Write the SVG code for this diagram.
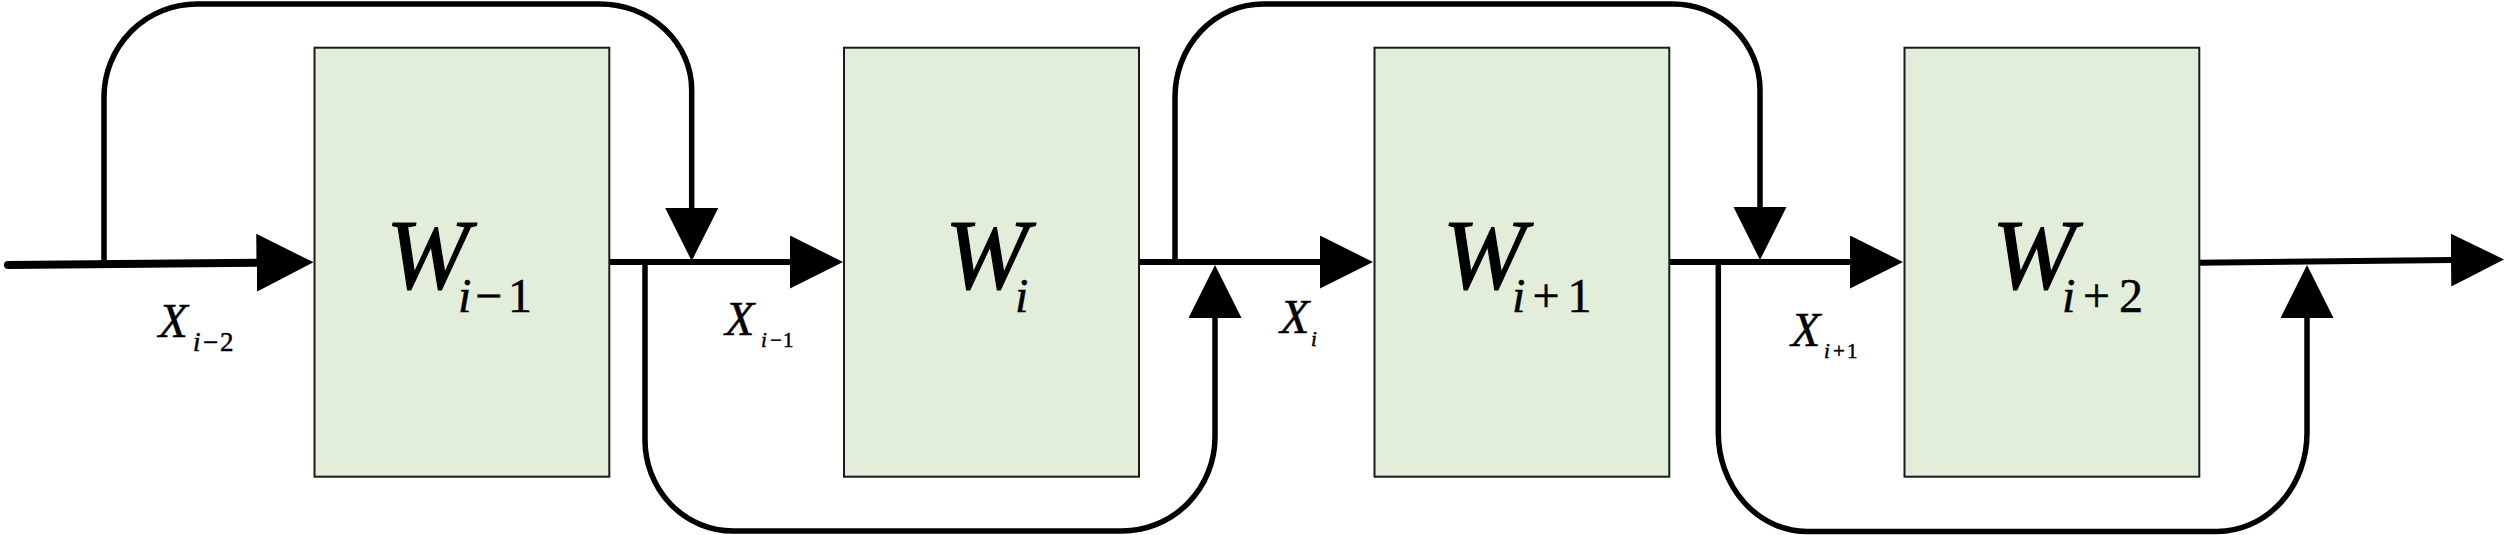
<svg xmlns="http://www.w3.org/2000/svg" width="2510" height="535" viewBox="0 0 2510 535">
<style>
.box{fill:#E2EDDA;stroke:#1a1a1a;stroke-width:2}
.main{fill:none;stroke:#000;stroke-width:6;stroke-linecap:round}
.loop{fill:none;stroke:#000;stroke-width:5.5}
.t{font-family:'Liberation Serif','Times New Roman',Times,serif;fill:#000;stroke:#000;stroke-width:0.5}
.big{stroke-width:1.2}
</style>
<defs>
<marker id="ah" markerUnits="userSpaceOnUse" markerWidth="60" markerHeight="60" refX="1" refY="26.5" orient="auto">
<path d="M0,0 L53,26.5 L0,53 Z" fill="#000"/>
</marker>
<marker id="ahBig" markerUnits="userSpaceOnUse" markerWidth="64" markerHeight="64" refX="1" refY="29" orient="auto">
<path d="M0,0 L57,29 L0,58 Z" fill="#000"/>
</marker>
</defs>

<g id="connectors">
<path class="main" style="stroke-width:8" d="M8,265 L257.5,262.8" marker-end="url(#ahBig)"/>
<path class="main" d="M609,262 L791,262" marker-end="url(#ah)"/>
<path class="main" d="M1139,262 L1321,262" marker-end="url(#ah)"/>
<path class="main" d="M1669,262 L1851,262" marker-end="url(#ah)"/>
<path class="main" d="M2199,262.7 L2452,260" marker-end="url(#ah)"/>
<path class="loop" d="M104,263 V97 A93,93 0 0 1 197,4 H600 A91.7,86 0 0 1 691.7,90 V209" marker-end="url(#ah)"/>
<path class="loop" d="M645,262 V440 A88,91 0 0 0 733,531 H1122 A93,94 0 0 0 1215,437 V317" marker-end="url(#ah)"/>
<path class="loop" d="M1175,262 V97 A88,93 0 0 1 1263,4 H1673 A87,86 0 0 1 1760,90 V208" marker-end="url(#ah)"/>
<path class="loop" d="M1718.3,262 V433 A89,98.5 0 0 0 1807,531.5 H2217 A90,98.5 0 0 0 2307,433 V317" marker-end="url(#ah)"/>
</g>

<g id="node-w-im1">
<rect class="box" x="314.5" y="47.7" width="294.8" height="429"/>
<text class="t"><tspan class="big" font-style="italic" font-size="100" x="386" y="288">W</tspan><tspan font-style="italic" font-size="48" x="458" y="311.5">i</tspan><tspan font-size="48" x="475" y="311.5">−</tspan><tspan font-size="48" x="508" y="311.5">1</tspan></text>
</g>
<g id="node-w-i">
<rect class="box" x="844" y="47.7" width="295" height="429"/>
<text class="t"><tspan class="big" font-style="italic" font-size="100" x="945" y="288">W</tspan><tspan font-style="italic" font-size="48" x="1015" y="311.5">i</tspan></text>
</g>
<g id="node-w-ip1">
<rect class="box" x="1374.5" y="47.7" width="294.8" height="429"/>
<text class="t"><tspan class="big" font-style="italic" font-size="100" x="1442.5" y="288">W</tspan><tspan font-style="italic" font-size="48" x="1512" y="311.5">i</tspan><tspan font-size="48" x="1532.6" y="311.5">+</tspan><tspan font-size="48" x="1567.5" y="311.5">1</tspan></text>
</g>
<g id="node-w-ip2">
<rect class="box" x="1904.5" y="47.7" width="294.8" height="429"/>
<text class="t"><tspan class="big" font-style="italic" font-size="100" x="1992" y="288">W</tspan><tspan font-style="italic" font-size="48" x="2062" y="311.5">i</tspan><tspan font-size="48" x="2083" y="311.5">+</tspan><tspan font-size="48" x="2119" y="311.5">2</tspan></text>
</g>

<g id="labels">
<text class="t"><tspan font-style="italic" font-size="48" x="158.4" y="337">X</tspan><tspan font-style="italic" font-size="27" x="193" y="351">i</tspan><tspan font-size="27" x="203" y="351">−</tspan><tspan font-size="27" x="220" y="351">2</tspan></text>
<text class="t"><tspan font-style="italic" font-size="48" x="725" y="335">X</tspan><tspan font-style="italic" font-size="21" x="761" y="347">i</tspan><tspan font-size="21" x="770" y="347">−</tspan><tspan font-size="21" x="783" y="347">1</tspan></text>
<text class="t"><tspan font-style="italic" font-size="48" x="1280" y="333">X</tspan><tspan font-style="italic" font-size="21" x="1311" y="345.5">i</tspan></text>
<text class="t"><tspan font-style="italic" font-size="48" x="1791" y="346">X</tspan><tspan font-style="italic" font-size="21" x="1824" y="358">i</tspan><tspan font-size="21" x="1833" y="358">+</tspan><tspan font-size="21" x="1847" y="358">1</tspan></text>
</g>
</svg>
